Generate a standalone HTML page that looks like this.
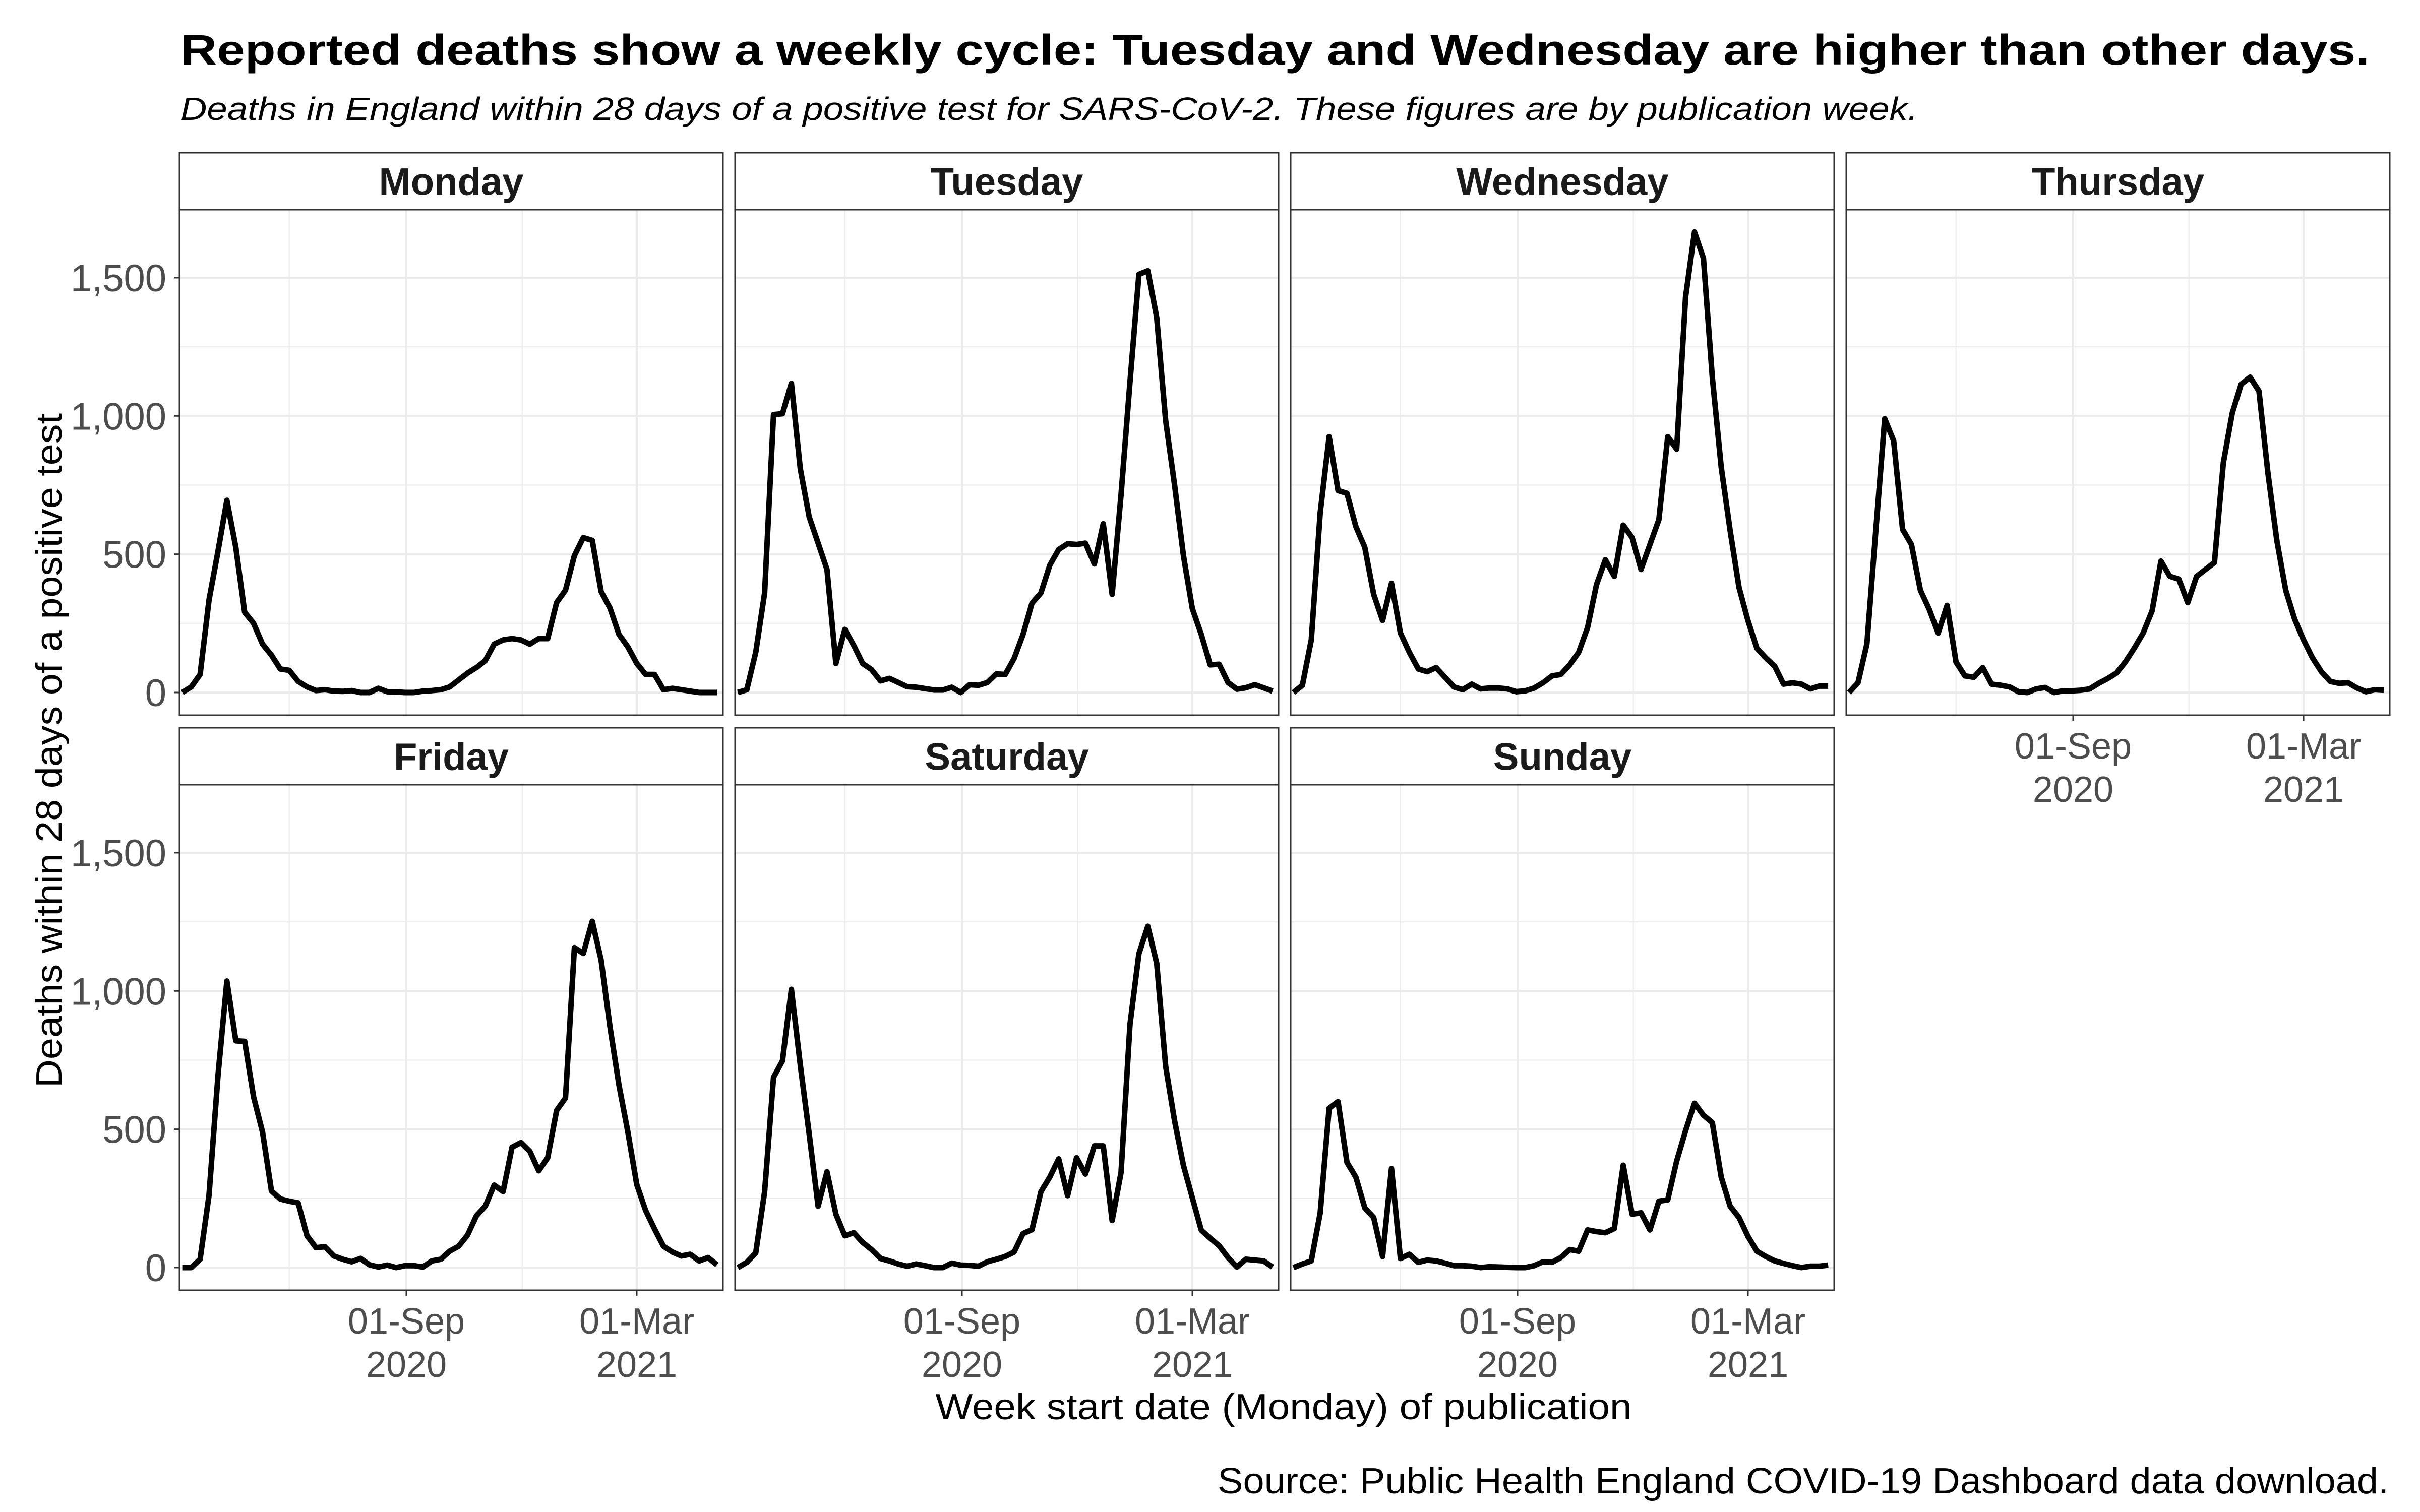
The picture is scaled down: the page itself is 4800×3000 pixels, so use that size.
<!DOCTYPE html>
<html><head><meta charset="utf-8">
<style>
html,body{margin:0;padding:0;background:#fff;}
svg{display:block;}
</style></head>
<body>
<svg id="chart" xmlns="http://www.w3.org/2000/svg" width="4800" height="3000" viewBox="0 0 4800 3000">
<rect x="0" y="0" width="4800" height="3000" fill="#fff"/>
<text x="358" y="128" font-family="Liberation Sans, sans-serif" font-weight="bold" font-size="84" fill="#000" textLength="4342" lengthAdjust="spacingAndGlyphs">Reported deaths show a weekly cycle: Tuesday and Wednesday are higher than other days.</text>
<text x="358" y="238" font-family="Liberation Sans, sans-serif" font-style="italic" font-size="64" fill="#000" textLength="3446" lengthAdjust="spacingAndGlyphs">Deaths in England within 28 days of a positive test for SARS-CoV-2. These figures are by publication week.</text>
<text transform="translate(122,1489) rotate(-90)" text-anchor="middle" font-family="Liberation Sans, sans-serif" font-size="72" fill="#000" textLength="1338" lengthAdjust="spacingAndGlyphs">Deaths within 28 days of a positive test</text>
<text x="2546" y="2816" text-anchor="middle" font-family="Liberation Sans, sans-serif" font-size="72" fill="#000" textLength="1381" lengthAdjust="spacingAndGlyphs">Week start date (Monday) of publication</text>
<text x="4738" y="2963" text-anchor="end" font-family="Liberation Sans, sans-serif" font-size="72" fill="#000" textLength="2323" lengthAdjust="spacingAndGlyphs">Source: Public Health England COVID-19 Dashboard data download.</text>
<g id="panels"></g>
</svg>
<script>
const dayNames = ['Monday','Tuesday','Wednesday','Thursday','Friday','Saturday','Sunday'];
const firstWeekStart = '2020-03-09';
const monday = [0,20,65,335,510,695,525,290,250,175,135,85,80,40,20,7,10,5,4,7,0,0,15,3,2,0,0,5,7,10,20,45,70,90,115,175,190,195,190,175,195,195,325,370,495,560,550,365,305,210,165,105,65,65,10,15,10,5,0,0,0];
const tuesday = [0,10,145,360,1005,1008,1118,810,635,540,445,105,228,170,105,83,42,51,36,21,19,14,9,9,19,0,28,26,36,67,65,123,210,323,360,460,517,538,535,540,465,610,355,716,1123,1512,1525,1356,984,751,495,303,210,100,102,36,12,17,28,17,5];
const wednesday = [0,26,190,650,925,730,720,600,525,355,260,395,215,145,85,75,90,55,20,10,30,13,16,16,13,3,6,16,35,60,65,100,145,235,390,480,420,605,560,445,535,625,925,880,1430,1665,1570,1140,815,585,380,260,160,125,95,30,35,30,13,23,23];
const thursday = [0,35,175,585,990,910,590,535,370,300,215,315,110,60,55,90,30,26,20,3,0,13,18,0,6,6,8,13,33,50,70,110,160,215,295,475,420,410,325,420,445,470,830,1010,1115,1140,1090,795,550,370,265,190,125,75,40,33,35,16,3,10,8];
const friday = [0,0,30,262,693,1036,820,818,617,490,277,248,240,234,115,72,75,42,30,21,33,10,2,9,0,7,7,2,24,30,59,77,117,187,222,298,275,435,452,420,350,397,568,613,1157,1136,1252,1112,869,660,491,300,206,139,77,56,42,48,24,36,10];
const saturday = [0,19,53,274,688,747,1006,733,483,222,346,193,115,126,91,65,33,24,13,5,13,7,0,0,16,9,8,5,21,30,40,56,123,137,274,327,393,260,397,338,440,440,170,344,879,1135,1234,1100,728,531,369,252,135,106,79,36,2,30,27,24,2];
const sunday = [0,13,24,198,576,600,380,327,216,181,40,358,33,48,19,27,24,16,7,7,5,0,3,2,1,0,0,7,21,19,36,65,59,136,130,126,141,370,193,198,136,240,245,385,495,594,551,524,327,222,181,113,59,40,24,15,7,0,5,5,9];
const allSeries = [monday,tuesday,wednesday,thursday,friday,saturday,sunday];
const yTickValues = [0,500,1000,1500];
const yTickLabels = ['0','500','1,000','1,500'];
const yMinorValues = [250,750,1250];
const xTickDates = ['2020-09-01','2021-03-01'];
const xTickLine1 = ['01-Sep','01-Mar'];
const xTickLine2 = ['2020','2021'];
const xMinorDates = ['2020-06-01','2020-12-01'];

const NS='http://www.w3.org/2000/svg';
const PANEL_W=1078, PLOT_H=1003, STRIP_H=113;
const colLeft=[356,1458,2560,3662];
const rowTop=[303,1444];
const MS_DAY=86400000;
function dayNum(s){return Date.UTC(+s.slice(0,4),+s.slice(5,7)-1,+s.slice(8,10))/MS_DAY;}
const refDay=dayNum('2020-09-01');
function xScale(left,dn){return left+450+(dn-refDay)*2.525;}
function yScale(top,v){return top+958-v*0.5487;}
function mk(tag,attrs,parent){const e=document.createElementNS(NS,tag);for(const k in attrs)e.setAttribute(k,attrs[k]);parent.appendChild(e);return e;}
const root=document.getElementById('panels');
const start=dayNum(firstWeekStart);
const FONT='Liberation Sans, sans-serif';

allSeries.forEach((series,k)=>{
  const col=k%4,row=Math.floor(k/4);
  const left=colLeft[col], sTop=rowTop[row], pTop=sTop+STRIP_H;
  const g=mk('g',{},root);
  
  
  // strip
  const strip=mk('rect',{x:left,y:sTop,width:PANEL_W,height:STRIP_H,fill:'#fff',stroke:'#333','stroke-width':3},g);
  
  
  const st=mk('text',{x:left+PANEL_W/2,y:sTop+STRIP_H/2+27,'text-anchor':'middle','font-family':FONT,'font-weight':'bold','font-size':76,fill:'#1a1a1a'},g);
  st.textContent=dayNames[k];
  
  
  // plot background
  mk('rect',{x:left,y:pTop,width:PANEL_W,height:PLOT_H,fill:'#fff'},g);
  // grid minor
  yMinorValues.forEach(v=>{
    const y=yScale(pTop,v);
    const l=mk('line',{x1:left,x2:left+PANEL_W,y1:y,y2:y,stroke:'#ebebeb','stroke-width':2},g);
    
    
  });
  xMinorDates.forEach(d=>{
    const x=xScale(left,dayNum(d));
    const l=mk('line',{x1:x,x2:x,y1:pTop,y2:pTop+PLOT_H,stroke:'#ebebeb','stroke-width':2},g);
    
    
  });
  yTickValues.forEach(v=>{
    const y=yScale(pTop,v);
    const l=mk('line',{x1:left,x2:left+PANEL_W,y1:y,y2:y,stroke:'#ebebeb','stroke-width':4},g);
    
    
  });
  xTickDates.forEach(d=>{
    const x=xScale(left,dayNum(d));
    const l=mk('line',{x1:x,x2:x,y1:pTop,y2:pTop+PLOT_H,stroke:'#ebebeb','stroke-width':4},g);
    
    
  });
  // line
  const pts=series.map((v,i)=>xScale(left,start+7*i).toFixed(1)+','+yScale(pTop,v).toFixed(1)).join(' ');
  const pl=mk('polyline',{points:pts,fill:'none',stroke:'#000','stroke-width':11,'stroke-linejoin':'round','stroke-linecap':'butt'},g);
  
  
  // border
  const b=mk('rect',{x:left,y:pTop,width:PANEL_W,height:PLOT_H,fill:'none',stroke:'#333','stroke-width':3},g);
  
  
  // y axis on first column
  if(col===0){
    yTickValues.forEach((v,j)=>{
      const y=yScale(pTop,v);
      const t=mk('line',{x1:left-11,x2:left,y1:y,y2:y,stroke:'#333','stroke-width':3},g);
      
      
      const tx=mk('text',{x:left-26,y:y+27,'text-anchor':'end','font-family':FONT,'font-size':76,fill:'#4d4d4d'},g);
      tx.textContent=yTickLabels[j];
      
      
    });
  }
  // x axis on bottom panels (Thursday + row 2)
  if(k>=3){
    xTickDates.forEach((d,j)=>{
      const x=xScale(left,dayNum(d));
      const yb=pTop+PLOT_H;
      const t=mk('line',{x1:x,x2:x,y1:yb,y2:yb+11,stroke:'#333','stroke-width':3},g);
      
      
      const t1=mk('text',{x:x,y:yb+86,'text-anchor':'middle','font-family':FONT,'font-size':72,fill:'#4d4d4d'},g);
      t1.textContent=xTickLine1[j];
      
      
      const t2=mk('text',{x:x,y:yb+172,'text-anchor':'middle','font-family':FONT,'font-size':72,fill:'#4d4d4d'},g);
      t2.textContent=xTickLine2[j];
      
      
    });
  }
});
</script>
</body></html>
